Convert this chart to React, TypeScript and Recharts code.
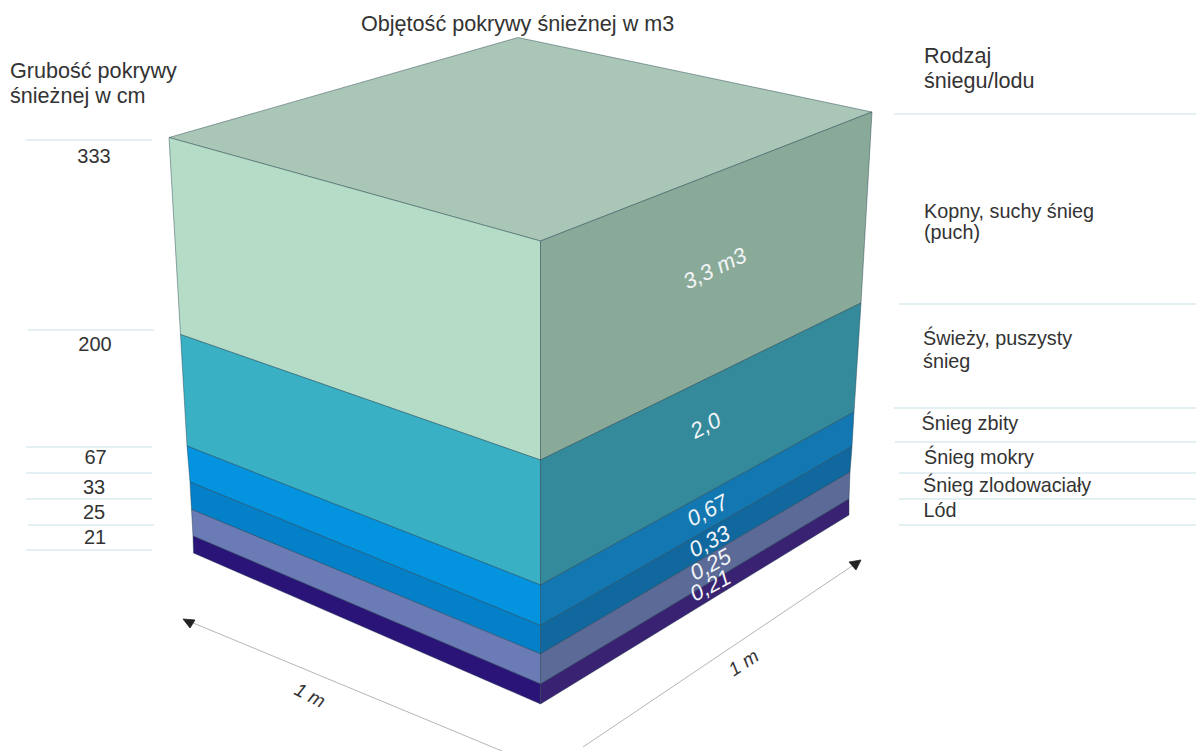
import { ScatterChart, Scatter, XAxis, YAxis } from 'recharts';

const WIDTH = 1196;
const HEIGHT = 751;
const FONT = '"Liberation Sans", Arial, sans-serif';

// layer boundaries, top of the cube first
const leftEdgeX = [169, 180.5, 187, 190, 191.5, 193, 193.5];
const leftEdgeY = [137.5, 334.5, 446, 482, 509.5, 536, 553];
const frontEdgeX = [540.5, 540.5, 540.5, 540.5, 540.5, 540.5, 540.5];
const frontEdgeY = [241, 460, 585, 625.5, 654, 684, 704];
const rightEdgeX = [872, 861, 854, 852, 850, 849, 849];
const rightEdgeY = [112, 303, 412, 446.5, 472, 499, 515];
const backCorner = { x: 518, y: 37.5 };

const topColor = '#a9c6b6';
const leftColors = ['#b5dcc6', '#3ab0c4', '#0494df', '#0480c8', '#6a7bb6', '#2a1478'];
const rightColors = ['#8aaa99', '#348a9b', '#1378b1', '#10689f', '#5b6a97', '#3a2272'];

const thicknessLabels = ['333', '200', '67', '33', '25', '21'];
const thicknessX = [94, 95, 95.5, 94, 94, 95];
const thicknessY = [163, 351, 464, 494, 519, 544];

const volumeLabels = ['3,3 m3', '2,0', '0,67', '0,33', '0,25', '0,21'];
const volumeX = [718, 709, 711, 713, 714, 714];
const volumeY = [275, 432, 517, 548, 571, 592];
const volumeAngle = [-26, -27, -28, -28, -28, -28];

const typeLabels = [
  'Kopny, suchy śnieg',
  '(puch)',
  'Świeży, puszysty',
  'śnieg',
  'Śnieg zbity',
  'Śnieg mokry',
  'Śnieg zlodowaciały',
  'Lód',
];
const typeX = [924, 924, 923, 923, 921.5, 924, 923, 923.5];
const typeY = [218, 239, 345, 368, 430, 464, 492, 517];

const titleLabels = ['Objętość pokrywy śnieżnej w m3', 'Grubość pokrywy', 'śnieżnej w cm', 'Rodzaj', 'śniegu/lodu'];
const titleX = [361, 10, 10, 924, 924];
const titleY = [31, 78, 103, 63, 88];

const sizeLabels = ['1 m', '1 m'];
const sizeX = [307, 747];
const sizeY = [701, 668];
const sizeAngle = [27, -33];

const leftRuleY = [140, 330, 447, 473, 499, 525, 550];
const leftRuleFrom = [26, 28, 26, 26, 26, 28, 26];
const leftRuleTo = [152, 154, 152, 152, 152, 154, 152];
const rightRuleY = [114, 304, 408, 442, 473, 499, 525];
const rightRuleFrom = [894, 899, 894, 895, 899, 899, 899];

const arrowLines = [
  [{ x: 186, y: 620 }, { x: 502, y: 751 }],
  [{ x: 858, y: 562 }, { x: 583, y: 747 }],
];
const arrowHeads = [
  [{ x: 183, y: 619 }, { x: 195, y: 620 }, { x: 190, y: 628 }],
  [{ x: 861, y: 560 }, { x: 849, y: 562 }, { x: 856, y: 570 }],
];

type Pt = { x: number; y: number };
type TextPt = Pt & { text: string; angle?: number };

const leftPt = (i: number): Pt => ({ x: leftEdgeX[i], y: leftEdgeY[i] });
const frontPt = (i: number): Pt => ({ x: frontEdgeX[i], y: frontEdgeY[i] });
const rightPt = (i: number): Pt => ({ x: rightEdgeX[i], y: rightEdgeY[i] });

const closed = (pts: Pt[]) => [...pts, pts[0]];

const polygon = (key: string, pts: Pt[], fill: string, stroke = 'rgba(30,60,75,0.55)') => (
  <Scatter
    key={key}
    data={closed(pts)}
    isAnimationActive={false}
    shape={() => <g />}
    line={{ fill, stroke, strokeWidth: 0.8 }}
  />
);

const rule = (key: string, from: number, to: number, y: number) => (
  <Scatter
    key={key}
    data={[{ x: from, y }, { x: to, y }]}
    isAnimationActive={false}
    shape={() => <g />}
    line={{ stroke: '#c9dfe6', strokeWidth: 1 }}
  />
);

const texts = (key: string, data: TextPt[], size: number, fill: string, anchor: string, italic = false) => (
  <Scatter
    key={key}
    data={data}
    isAnimationActive={false}
    shape={(p: any) => (
      <text
        x={p.cx}
        y={p.cy}
        fill={fill}
        fontFamily={FONT}
        fontSize={size}
        fontStyle={italic ? 'italic' : 'normal'}
        textAnchor={anchor as any}
        transform={p.payload.angle ? `rotate(${p.payload.angle} ${p.cx} ${p.cy})` : undefined}
      >
        {p.payload.text}
      </text>
    )}
  />
);

export default function App() {
  const thickness = thicknessLabels.map((text, i) => ({ text, x: thicknessX[i], y: thicknessY[i] }));
  const volumes = volumeLabels.map((text, i) => ({ text, x: volumeX[i], y: volumeY[i], angle: volumeAngle[i] }));
  const types = typeLabels.map((text, i) => ({ text, x: typeX[i], y: typeY[i] }));
  const titles = titleLabels.map((text, i) => ({ text, x: titleX[i], y: titleY[i] }));
  const sizes = sizeLabels.map((text, i) => ({ text, x: sizeX[i], y: sizeY[i], angle: sizeAngle[i] }));

  return (
    <div style={{ position: 'absolute', left: 0, top: 0, width: WIDTH, height: HEIGHT, background: '#fff' }}>
      <ScatterChart width={WIDTH} height={HEIGHT} margin={{ top: 0, right: 0, bottom: 0, left: 0 }}>
        <XAxis type="number" dataKey="x" domain={[0, WIDTH]} hide />
        <YAxis type="number" dataKey="y" domain={[0, HEIGHT]} reversed hide />

        {/* Rules next to the cube */}
        {leftRuleY.map((y, i) => rule(`lr${i}`, leftRuleFrom[i], leftRuleTo[i], y))}
        {rightRuleY.map((y, i) => rule(`rr${i}`, rightRuleFrom[i], WIDTH, y))}

        {/* Cube */}
        {polygon('top', [leftPt(0), backCorner, rightPt(0), frontPt(0)], topColor)}
        {leftColors.map((c, i) =>
          polygon(`left${i}`, [leftPt(i), frontPt(i), frontPt(i + 1), leftPt(i + 1)], c),
        )}
        {rightColors.map((c, i) =>
          polygon(`right${i}`, [frontPt(i), rightPt(i), rightPt(i + 1), frontPt(i + 1)], c),
        )}

        {/* Dimension arrows */}
        {arrowLines.map((pts, i) => (
          <Scatter
            key={`al${i}`}
            data={pts}
            isAnimationActive={false}
            shape={() => <g />}
            line={{ stroke: '#b5b5b5', strokeWidth: 1 }}
          />
        ))}
        {arrowHeads.map((pts, i) => polygon(`ah${i}`, pts, '#222', '#222'))}

        {/* Text */}
        {texts('titles', titles, 21.6, '#333', 'start')}
        {texts('thickness', thickness, 20, '#333', 'middle')}
        {texts('types', types, 19.8, '#333', 'start')}
        {texts('volumes', volumes, 22, '#f2f5f7', 'middle', true)}
        {texts('sizes', sizes, 19, '#333', 'middle', true)}
      </ScatterChart>
    </div>
  );
}
